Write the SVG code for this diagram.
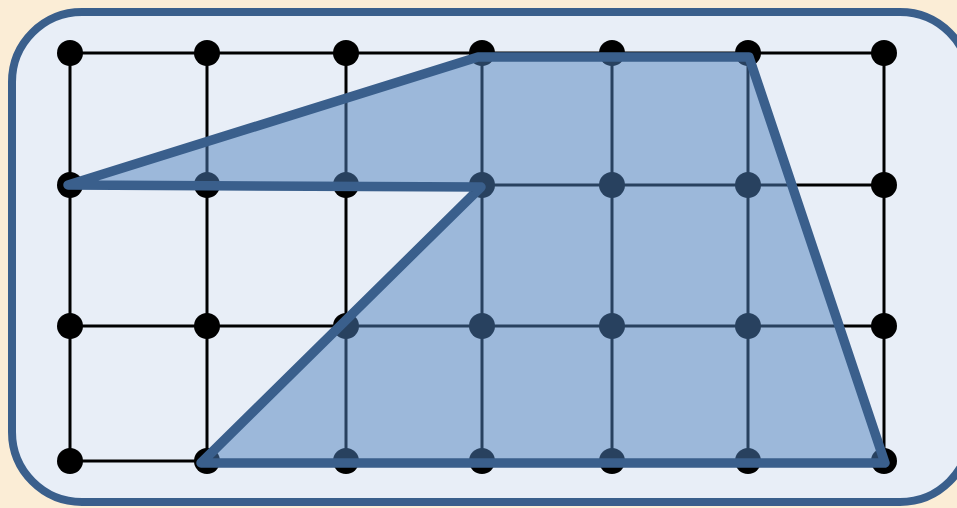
<svg xmlns="http://www.w3.org/2000/svg" width="957" height="508" viewBox="0 0 957 508">
<style>
.grid{stroke:#000;stroke-width:3;fill:none}
.dot{fill:#000}
.shape{fill:#4f81bd;fill-opacity:0.5;stroke:#3a5f8c;stroke-width:9.5;stroke-linejoin:round}
</style>
<rect width="957" height="508" fill="#fbedd6"/>
<g id="frame"><rect x="12" y="12" width="958" height="490" rx="70" ry="70" fill="#e8eef7" stroke="#3a5f8c" stroke-width="8"/></g>
<g id="connectors" class="grid">
<path d="M70 53H884M70 185H884M70 326H884M70 461H884"/>
<path d="M70 53V461M207 53V461M346 53V461M482 53V461M612 53V461M748 53V461M884 53V461"/>
</g>
<g id="dots" class="dot">
<g id="r1"><circle cx="70" cy="53" r="13"/><circle cx="207" cy="53" r="13"/><circle cx="346" cy="53" r="13"/><circle cx="482" cy="53" r="13"/><circle cx="612" cy="53" r="13"/><circle cx="748" cy="53" r="13"/><circle cx="884" cy="53" r="13"/></g>
<g id="r2"><circle cx="70" cy="185" r="13"/><circle cx="207" cy="185" r="13"/><circle cx="346" cy="185" r="13"/><circle cx="482" cy="185" r="13"/><circle cx="612" cy="185" r="13"/><circle cx="748" cy="185" r="13"/><circle cx="884" cy="185" r="13"/></g>
<g id="r3"><circle cx="70" cy="326" r="13"/><circle cx="207" cy="326" r="13"/><circle cx="346" cy="326" r="13"/><circle cx="482" cy="326" r="13"/><circle cx="612" cy="326" r="13"/><circle cx="748" cy="326" r="13"/><circle cx="884" cy="326" r="13"/></g>
<g id="r4"><circle cx="70" cy="461" r="13"/><circle cx="207" cy="461" r="13"/><circle cx="346" cy="461" r="13"/><circle cx="482" cy="461" r="13"/><circle cx="612" cy="461" r="13"/><circle cx="748" cy="461" r="13"/><circle cx="884" cy="461" r="13"/></g>
</g>
<g id="shape"><path class="shape" d="M68 185L478 57H749L885 463H201L481 187L68 185Z"/></g>
</svg>
